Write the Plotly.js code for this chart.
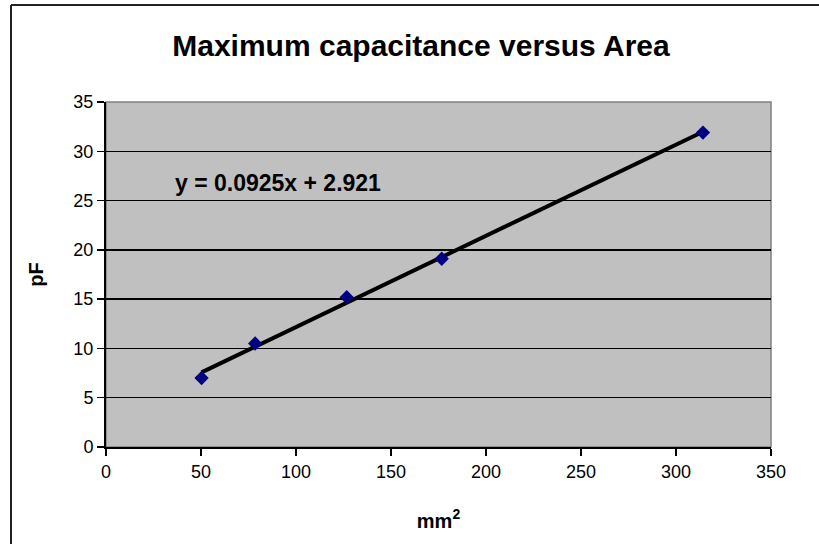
<!DOCTYPE html>
<html>
<head>
<meta charset="utf-8">
<script src="https://cdn.plot.ly/plotly-3.0.1.min.js"></script>
<style>
html,body{margin:0;padding:0;background:#fff;}
#chart{width:819px;height:544px;}
</style>
</head>
<body>
<div id="chart"></div>
<script>
// Data
var areaMm2 = [50.3, 78.5, 126.7, 176.7, 314.2];
var capPF = [7.0, 10.5, 15.2, 19.1, 31.9];
var slope = 0.0925;
var intercept = 2.921;
var trendX = [50.3, 314.2];
var trendY = trendX.map(function (x) { return slope * x + intercept; });
var titleText = "Maximum capacitance versus Area";
var eqText = "y = 0.0925x + 2.921";
var xTitle = "mm<sup>2</sup>";
var yTitle = "pF";

var FONT = "Arial, 'Liberation Sans', sans-serif";

var traces = [
  {
    x: trendX, y: trendY, mode: "lines", type: "scatter",
    line: {color: "#000000", width: 4},
    hoverinfo: "skip", showlegend: false
  },
  {
    x: areaMm2, y: capPF, mode: "markers", type: "scatter",
    marker: {symbol: "diamond", size: 11, color: "#000080",
             line: {width: 0}},
    showlegend: false
  }
];

var L = 106, R = 48, T = 102, B = 97;
var W = 819 - L - R, H = 544 - T - B;
var fx0 = (11 - L) / W, fx1 = (819 - L) / W;
var fyTop = (544 - B - 5) / H, fyBot = (544 - B - 544) / H;

var layout = {
  width: 819, height: 544,
  margin: {l: L, r: R, t: T, b: B, pad: 0},
  paper_bgcolor: "#ffffff",
  plot_bgcolor: "#c0c0c0",
  font: {family: FONT, color: "#000000", size: 18},
  title: {
    text: "<b>" + titleText + "</b>",
    font: {family: FONT, size: 30, color: "#000000"},
    x: 421 / 819, xanchor: "center", xref: "container",
    y: 1 - 45 / 544, yanchor: "middle", yref: "container"
  },
  xaxis: {
    range: [0, 350], dtick: 50, tick0: 0,
    showgrid: false, zeroline: false,
    showline: true, linecolor: "#000000", linewidth: 2,
    ticks: "outside", ticklen: 7, tickwidth: 1.5, tickcolor: "#000000",
    tickfont: {family: FONT, size: 18, color: "#000000"},
    title: {text: "<b>" + xTitle + "</b>",
            font: {family: FONT, size: 20, color: "#000000"}, standoff: 33},
    fixedrange: true
  },
  yaxis: {
    range: [0, 35], dtick: 5, tick0: 0,
    showgrid: true, gridcolor: "#000000", gridwidth: 1.5,
    zeroline: false,
    showline: true, linecolor: "#000000", linewidth: 2,
    ticks: "outside", ticklen: 7, tickwidth: 1.5, tickcolor: "#000000",
    tickfont: {family: FONT, size: 18, color: "#000000"},
    title: {text: "<b>" + yTitle + "</b>",
            font: {family: FONT, size: 20, color: "#000000"}, standoff: 24},
    fixedrange: true
  },
  shapes: [
    // plot area border (top/right in gray)
    {type: "rect", xref: "paper", yref: "paper", x0: 0, x1: 1, y0: 0, y1: 1,
     line: {color: "#808080", width: 1.5}, layer: "below"},
    // outer chart frame: top and left edges (others are off-image)
    {type: "line", xref: "paper", yref: "paper",
     x0: fx0, x1: fx1, y0: fyTop, y1: fyTop,
     line: {color: "#222222", width: 2}},
    {type: "line", xref: "paper", yref: "paper",
     x0: fx0, x1: fx0, y0: fyTop, y1: fyBot,
     line: {color: "#222222", width: 2}}
  ],
  annotations: [
    {x: 90.5, y: 26.8, xref: "x", yref: "y", text: "<b>" + eqText + "</b>",
     showarrow: false, font: {family: FONT, size: 23, color: "#000000"},
     xanchor: "center", yanchor: "middle"}
  ],
  showlegend: false
};

Plotly.newPlot("chart", traces, layout, {displayModeBar: false, staticPlot: true});
</script>
</body>
</html>
